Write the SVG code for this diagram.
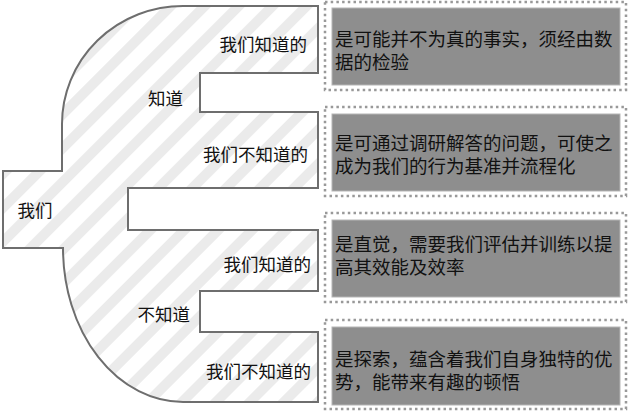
<svg xmlns="http://www.w3.org/2000/svg" width="628" height="412" viewBox="0 0 628 412">
<style>
  .lbl { font-family: "Noto Sans CJK SC", "Noto Sans", sans-serif; font-size: 17.5px; fill: #111; dominant-baseline: central; }
  .desc { font-family: "Noto Sans CJK SC", "Noto Sans", sans-serif; font-size: 18.5px; fill: #111; dominant-baseline: central; }
  .frame { fill: #fff; stroke: #999; stroke-width: 2.5; stroke-dasharray: 2.5 3.2; }
  .panel { fill: #8e8e8e; stroke: #b5b5b5; stroke-width: 1; }
</style>
<defs>
  <pattern id="hatch" patternUnits="userSpaceOnUse" width="24" height="24" patternTransform="rotate(45)">
    <rect width="24" height="24" fill="#ffffff"/>
    <rect x="0" y="0" width="10" height="24" fill="#ebebeb"/>
  </pattern>
</defs>
<g id="tree">
  <path d="M 183,6 H 318 V 73 H 200 V 112 H 318 V 188 H 128 V 230 H 318 V 291 H 200 V 332 H 318 V 402 H 183 A 120 154 0 0 1 63,248 H 3 V 171 H 62 V 124 A 121 118 0 0 1 183,6 Z" fill="url(#hatch)" stroke="#6e6e6e" stroke-width="2"/>
</g>
<g id="n-women"><text class="lbl" x="35" y="209" text-anchor="middle">我们</text></g>
<g id="n-zhidao"><text class="lbl" x="183" y="97" text-anchor="end">知道</text></g>
<g id="n-buzhidao"><text class="lbl" x="190" y="313" text-anchor="end">不知道</text></g>
<g id="n-kk"><text class="lbl" x="307" y="43" text-anchor="end">我们知道的</text></g>
<g id="n-ku"><text class="lbl" x="308" y="153" text-anchor="end">我们不知道的</text></g>
<g id="n-uk"><text class="lbl" x="311" y="263" text-anchor="end">我们知道的</text></g>
<g id="n-uu"><text class="lbl" x="311" y="370" text-anchor="end">我们不知道的</text></g>
<g id="box1">
  <rect class="frame" x="325" y="2" width="301" height="88"/>
  <rect class="panel" x="332" y="8" width="288" height="77"/>
  <text class="desc"><tspan x="335" y="38">是可能并不为真的事实，须经由数</tspan><tspan x="335" y="61">据的检验</tspan></text>
</g>
<g id="box2">
  <rect class="frame" x="325" y="107" width="301" height="89"/>
  <rect class="panel" x="332" y="114" width="288" height="77"/>
  <text class="desc"><tspan x="335" y="142">是可通过调研解答的问题，可使之</tspan><tspan x="335" y="165">成为我们的行为基准并流程化</tspan></text>
</g>
<g id="box3">
  <rect class="frame" x="325" y="213" width="301" height="89"/>
  <rect class="panel" x="332" y="220" width="288" height="77"/>
  <text class="desc"><tspan x="335" y="243">是直觉，需要我们评估并训练以提</tspan><tspan x="335" y="266">高其效能及效率</tspan></text>
</g>
<g id="box4">
  <rect class="frame" x="325" y="320" width="301" height="89"/>
  <rect class="panel" x="332" y="327" width="288" height="78"/>
  <text class="desc"><tspan x="335" y="358">是探索，蕴含着我们自身独特的优</tspan><tspan x="335" y="381">势，能带来有趣的顿悟</tspan></text>
</g>
<g id="connectors"></g>
</svg>
